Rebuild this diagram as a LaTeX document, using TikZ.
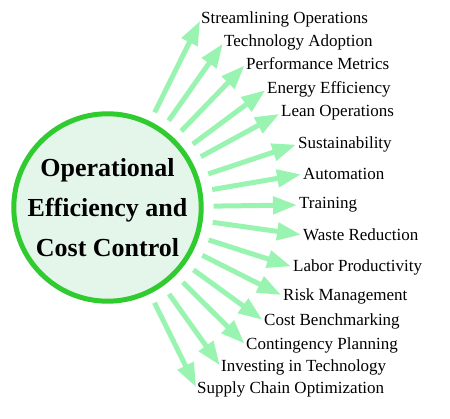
\documentclass[tikz,border=0pt]{standalone}
\usepackage{fontspec}
\setmainfont{Liberation Serif}
\usetikzlibrary{arrows.meta}
\usetikzlibrary{positioning}
\definecolor{ringgreen}{HTML}{2FCB2F}
\definecolor{hubfill}{HTML}{E4F6E9}
\definecolor{spoke}{HTML}{98F4B0}

\begin{document}
\begin{tikzpicture}[x=1pt, y=-1pt,
    hub/.style={circle, draw=ringgreen, line width=5pt, fill=hubfill,
      minimum size=185pt, inner sep=0pt, align=center,
      font=\fontsize{26}{40}\selectfont\bfseries},
    item/.style={anchor=west, inner sep=0pt, font=\fontsize{17}{20}\selectfont},
    spokearrow/.style={draw=spoke, line width=5pt,
      -{Triangle[length=24pt, width=17pt]}, shorten <=10pt, shorten >=2pt}]
  \useasboundingbox (0,0) rectangle (450,419);
  % Central circle
  \node[hub] (hub) at (107.5,207.5) {Operational\\Efficiency and\\Cost Control};
  % Items, top to bottom
  \node[item] (i1) at (201,19) {Streamlining Operations};
  \node[item] (i2) at (224,42) {Technology Adoption};
  \node[item] (i3) at (246,64) {Performance Metrics};
  \node[item] (i4) at (267,89) {Energy Efficiency};
  \node[item] (i5) at (281,113) {Lean Operations};
  \node[item] (i6) at (298,144) {Sustainability};
  \node[item] (i7) at (303,174) {Automation};
  \node[item] (i8) at (299,205) {Training};
  \node[item] (i9) at (303,235) {Waste Reduction};
  \node[item] (i10) at (293,267) {Labor Productivity};
  \node[item] (i11) at (283,296) {Risk Management};
  \node[item] (i12) at (264,321) {Cost Benchmarking};
  \node[item] (i13) at (246,345) {Contingency Planning};
  \node[item] (i14) at (221,367) {Investing in Technology};
  \node[item] (i15) at (197,389) {Supply Chain Optimization};
  % Arrows from the circle to every item
  \foreach \k in {1,...,15}
    \draw[spokearrow] (hub) -- (i\k.west);
\end{tikzpicture}
\end{document}
